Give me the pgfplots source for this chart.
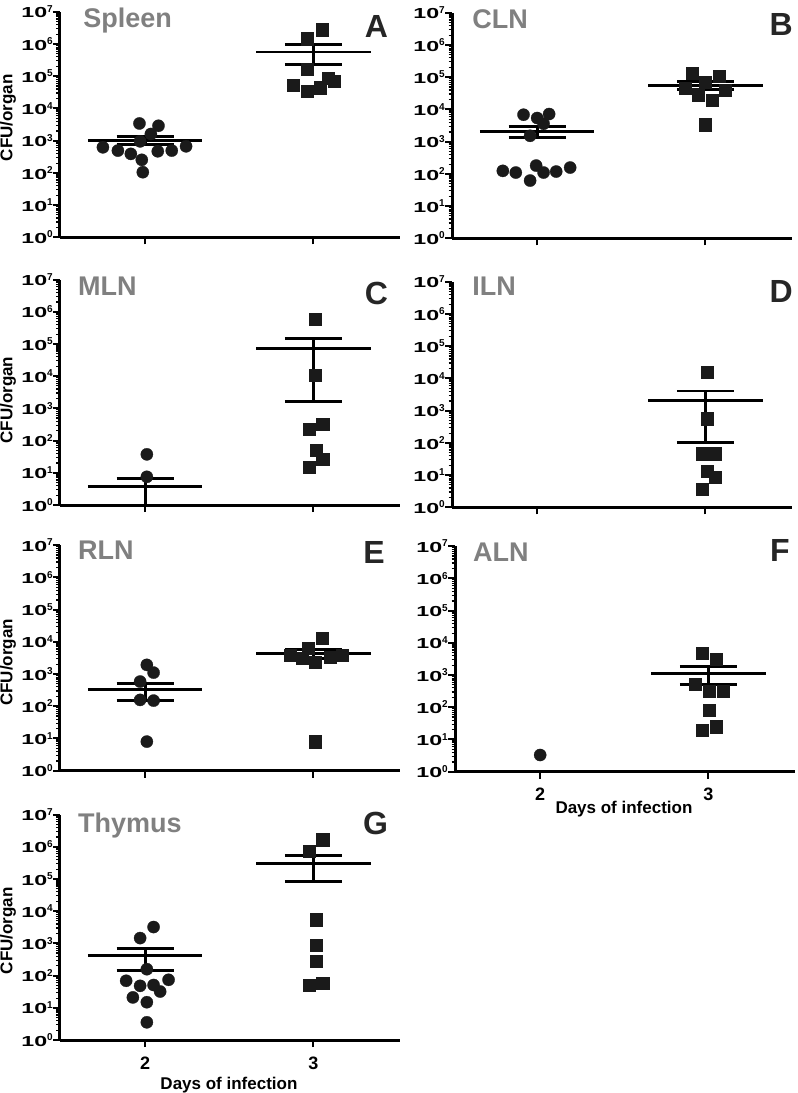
\documentclass[border=0pt]{standalone}
\usepackage{fontspec}
\setmainfont{Liberation Sans}
\newfontfamily\yfont[FakeStretch=1.6]{Liberation Sans}
\usepackage{pgfplots}
\pgfplotsset{compat=1.18}
\definecolor{ptc}{HTML}{1A1A1A}
\definecolor{ttl}{HTML}{808080}
\definecolor{lett}{HTML}{262626}
\newcommand\tlab[1]{{\yfont\bfseries\fontsize{14.5}{15}\selectfont 10}\raisebox{5.5pt}{\bfseries\fontsize{10}{10}\selectfont #1}}
\tikzset{
 myTtl/.style={anchor=base west, inner sep=0pt, text=ttl, font=\bfseries\fontsize{27}{27}\selectfont},
 myLet/.style={anchor=base east, inner sep=0pt, text=lett, font=\bfseries\fontsize{32}{32}\selectfont},
 myYlab/.style={rotate=90, anchor=center, inner sep=0pt, font=\bfseries\fontsize{17}{17}\selectfont},
 myXlab/.style={anchor=base, inner sep=0pt, font=\bfseries\fontsize{17}{17}\selectfont},
}
\newcommand{\PANEL}[2]{\begin{axis}[
  scale only axis, width=340pt, height=225.5pt,
  ymode=log, ymin=1, ymax=1e7, xmin=-0.506, xmax=1.514,
  axis x line*=bottom, axis y line*=left,
  axis line style={line width=3pt, black},
  clip=false,
  xtick={0,1}, xticklabels={},
  ytick={1,10,100,1000,10000,100000,1000000,10000000},
  yticklabels={\tlab0,\tlab1,\tlab2,\tlab3,\tlab4,\tlab5,\tlab6,\tlab7},
  minor ytick={2,3,4,5,6,7,8,9,20,30,40,50,60,70,80,90,200,300,400,500,600,700,800,900,2000,3000,4000,5000,6000,7000,8000,9000,20000,30000,40000,50000,60000,70000,80000,90000,200000,300000,400000,500000,600000,700000,800000,900000,2000000,3000000,4000000,5000000,6000000,7000000,8000000,9000000},
  tick align=outside,
  major tick length=7pt, minor tick length=3.5pt,
  major tick style={black, line width=2pt},
  minor tick style={black, line width=1.2pt},
  yticklabel style={font=\bfseries, anchor=east, inner sep=0pt, xshift=0pt},
  xticklabel style={font=\bfseries\fontsize{18}{18}\selectfont, anchor=base, inner sep=0pt, yshift=-22pt},
  anchor=south west, at={#1}, #2]}
\newcommand{\semzero}[3]{%
  \addplot[line width=2.8pt, black, mark=none] coordinates {(-0.34,#1) (0.34,#1)};
  \addplot[line width=2.8pt, black, mark=none] coordinates {(-0.17,#2) (0.17,#2)};
  \addplot[line width=2.8pt, black, mark=none] coordinates {(-0.17,#3) (0.17,#3)};
  \addplot[line width=2.8pt, black, mark=none] coordinates {(0,#2) (0,#3)};
}
\newcommand{\semone}[3]{%
  \addplot[line width=2.8pt, black, mark=none] coordinates {(0.66,#1) (1.34,#1)};
  \addplot[line width=2.8pt, black, mark=none] coordinates {(0.83,#2) (1.17,#2)};
  \addplot[line width=2.8pt, black, mark=none] coordinates {(0.83,#3) (1.17,#3)};
  \addplot[line width=2.8pt, black, mark=none] coordinates {(1,#2) (1,#3)};
}
\newcommand{\pts}[2]{% #1 = mark, #2 = table
  \addplot[only marks, mark=#1, mark size=6.1pt, mark options={fill=ptc, draw=ptc, line width=0.3pt}] table[row sep=\\] {#2};
}
\begin{document}
\begin{tikzpicture}
\path[use as bounding box] (0pt,0pt) rectangle (798pt,-1093pt);

% ---------------- A: Spleen
\PANEL{(60pt,-237.3pt)}{}
\pts{*}{x y\\ -0.034 3420\\ 0.079 2900\\ 0.034 1610\\ -0.030 952\\ -0.251 622\\ -0.162 492\\ -0.085 389\\ 0.075 468\\ 0.158 492\\ 0.243 668\\ -0.020 254\\ -0.014 105\\}
\pts{square*}{x y\\ 1.050 2.79e6\\ 0.960 1.47e6\\ 0.960 1.63e5\\ 1.089 8.96e4\\ 1.125 7.08e4\\ 0.881 5.33e4\\ 1.040 4.41e4\\ 0.960 3.48e4\\}
\semzero{1020}{770}{1330}
\semone{5.68e5}{2.32e5}{9.6e5}
\node[myTtl] at (rel axis cs:0.068,0.93) {Spleen};
\node[myLet] at (rel axis cs:0.965,0.888) {A};
\node[myYlab] at (rel axis cs:-0.153,0.53) {CFU/organ};
\end{axis}

% ---------------- B: CLN
\PANEL{(452pt,-238.3pt)}{}
\pts{*}{x y\\ -0.081 6860\\ 0.071 7210\\ 0.0 5420\\ 0.038 3600\\ -0.042 1520\\ -0.204 124\\ -0.127 110\\ -0.006 181\\ 0.038 110\\ 0.113 118\\ 0.196 157\\ -0.042 62\\}
\pts{square*}{x y\\ 0.919 1.36e5\\ 1.083 1.07e5\\ 0.998 6.9e4\\ 0.880 4.6e4\\ 1.117 3.9e4\\ 0.958 2.9e4\\ 1.038 2.0e4\\ 0.998 3350\\}
\semzero{2075}{1350}{2970}
\semone{5.5e4}{4.1e4}{7.5e4}
\node[myTtl] at (rel axis cs:0.059,0.93) {CLN};
\node[myLet] at (rel axis cs:1.003,0.90) {B};
\end{axis}

% ---------------- C: MLN
\PANEL{(60pt,-505pt)}{}
\pts{*}{x y\\ 0.01 37.4\\ 0.01 7.5\\}
\pts{square*}{x y\\ 1.010 5.75e5\\ 1.010 1.08e4\\ 1.054 318\\ 0.974 223\\ 1.014 51\\ 1.054 26\\ 0.974 14.8\\}
\semzero{3.7}{1}{6.7}
\semone{7.25e4}{1680}{1.44e5}
\node[myTtl] at (rel axis cs:0.053,0.93) {MLN};
\node[myLet] at (rel axis cs:0.965,0.89) {C};
\node[myYlab] at (rel axis cs:-0.153,0.465) {CFU/organ};
\end{axis}

% ---------------- D: ILN
\PANEL{(452pt,-507.3pt)}{}
\pts{square*}{x y\\ 1.012 1.54e4\\ 1.012 562\\ 0.978 46\\ 1.058 46\\ 1.012 13\\ 1.058 8.7\\ 0.978 3.65\\}
\semone{2100}{100}{4100}
\node[myTtl] at (rel axis cs:0.059,0.94) {ILN};
\node[myLet] at (rel axis cs:1.003,0.91) {D};
\end{axis}

% ---------------- E: RLN
\PANEL{(60pt,-770.7pt)}{}
\pts{*}{x y\\ 0.01 1930\\ 0.050 1110\\ -0.030 585\\ -0.030 158\\ 0.050 150\\ 0.01 8\\}
\pts{square*}{x y\\ 1.052 1.34e4\\ 0.969 6530\\ 0.862 3950\\ 0.933 3190\\ 1.010 2390\\ 1.099 3420\\ 1.171 3950\\ 1.010 8\\}
\semzero{323}{150}{496}
\semone{4240}{3120}{5650}
\node[myTtl] at (rel axis cs:0.053,0.935) {RLN};
\node[myLet] at (rel axis cs:0.956,0.92) {E};
\node[myYlab] at (rel axis cs:-0.153,0.48) {CFU/organ};
\end{axis}

% ---------------- F: ALN
\PANEL{(455pt,-771.7pt)}{xticklabels={2,3}}
\pts{*}{x y\\ 0 3.3\\}
\pts{square*}{x y\\ 0.963 4830\\ 1.046 3210\\ 0.923 535\\ 1.006 308\\ 1.085 308\\ 1.006 83\\ 1.046 25\\ 0.963 19\\}
\semone{1150}{524}{1850}
\node[myTtl] at (rel axis cs:0.053,0.93) {ALN};
\node[myLet] at (rel axis cs:0.985,0.93) {F};
\node[myXlab] at (rel axis cs:0.497,-0.187) {Days of infection};
\end{axis}

% ---------------- G: Thymus
\PANEL{(60pt,-1040pt)}{xticklabels={2,3}}
\pts{*}{x y\\ 0.050 3210\\ -0.030 1460\\ 0.01 158\\ -0.113 69\\ 0.139 74\\ -0.030 48\\ 0.050 51\\ 0.089 32\\ -0.073 21\\ 0.01 14.9\\ 0.01 3.55\\}
\pts{square*}{x y\\ 1.054 1.67e6\\ 0.974 7.2e5\\ 1.014 5420\\ 1.014 903\\ 1.014 274\\ 0.974 51\\ 1.054 58\\}
\semzero{420}{143}{711}
\semone{2.99e5}{8.4e4}{5.3e5}
\node[myTtl] at (rel axis cs:0.053,0.92) {Thymus};
\node[myLet] at (rel axis cs:0.965,0.91) {G};
\node[myYlab] at (rel axis cs:-0.153,0.485) {CFU/organ};
\node[myXlab] at (rel axis cs:0.497,-0.218) {Days of infection};
\end{axis}
\end{tikzpicture}
\end{document}
